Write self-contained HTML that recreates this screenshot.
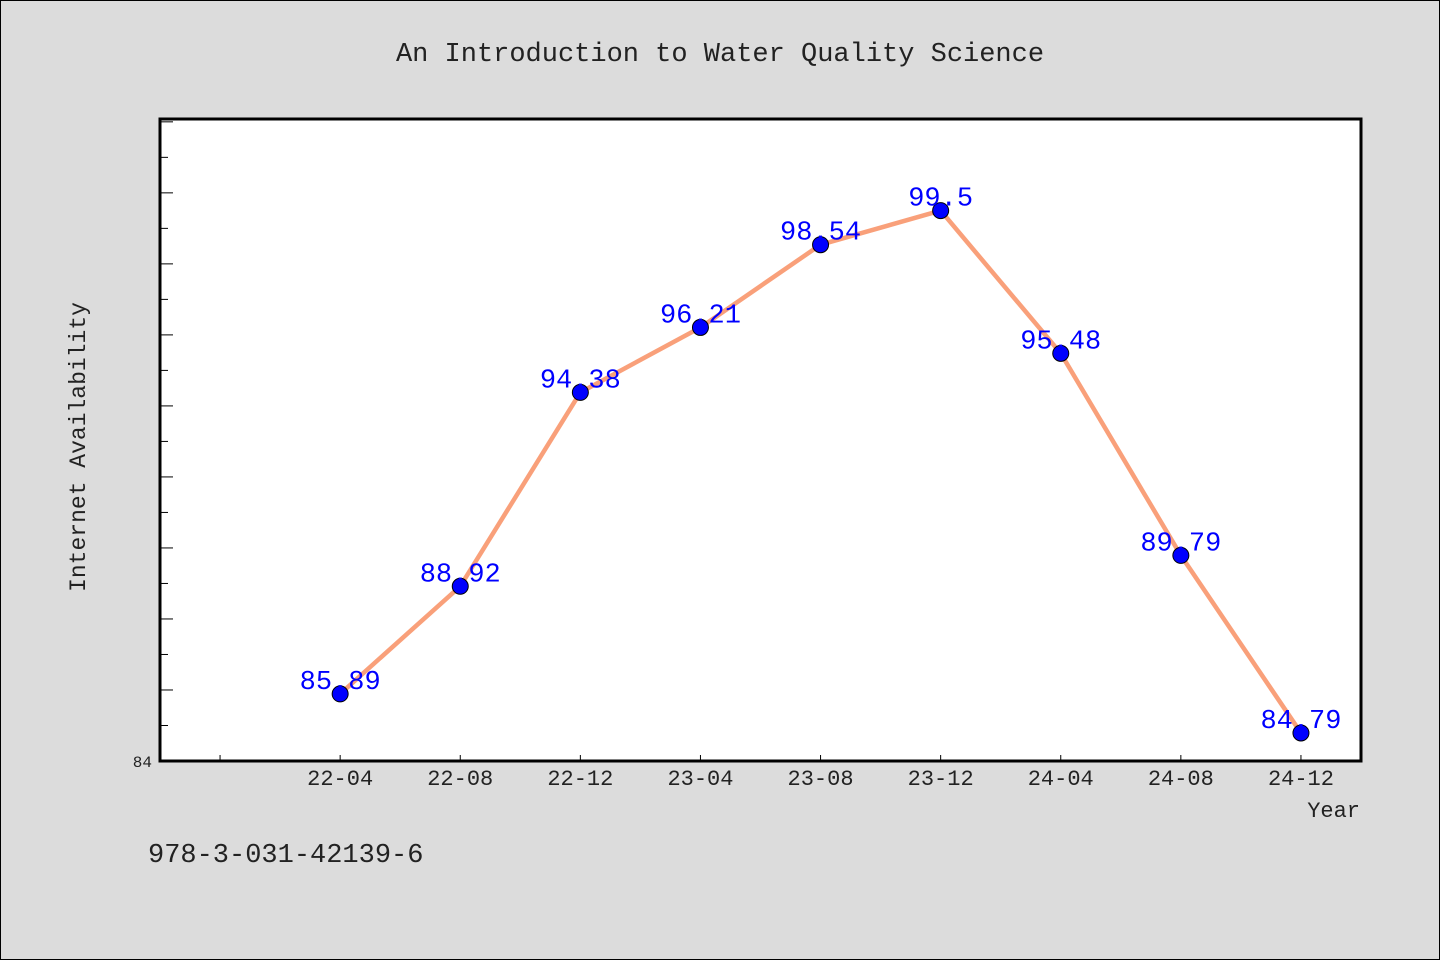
<!DOCTYPE html>
<html><head><meta charset="utf-8"><style>
body{margin:0;background:#dcdcdc;}
svg{display:block;font-family:"Liberation Mono","WenQuanYi Zen Hei",monospace;}
</style></head><body>
<svg id="chart" width="1440" height="960" xmlns="http://www.w3.org/2000/svg">
<rect x="0.5" y="0.5" width="1439" height="959" fill="#dcdcdc" stroke="#000"/>
<text x="720" y="61" text-anchor="middle" font-size="27" fill="#222">An Introduction to Water Quality Science</text>
<rect x="160" y="119" width="1201" height="642" fill="#fff" stroke="#000" stroke-width="3"/>
<text transform="translate(85,447) rotate(-90)" text-anchor="middle" font-size="23" fill="#222">Internet Availability</text>
<text x="1360" y="817" text-anchor="end" font-size="22" fill="#222">Year</text>
<text x="148" y="862" font-size="27" fill="#222">978-3-031-42139-6</text>
<g id="axes"></g>
<g id="marks"></g>
</svg>
<script>
const categories=["22-04","22-08","22-12","23-04","23-08","23-12","24-04","24-08","24-12"];
const values=[85.89,88.92,94.38,96.21,98.54,99.5,95.48,89.79,84.79];
const labels=["85.89","88.92","94.38","96.21","98.54","99.5","95.48","89.79","84.79"];
const yMin=84,yMax=102.08;
const NS="http://www.w3.org/2000/svg";
const L=160,R=1361,T=119,B=761;
const xs=i=>L+(i+1.5)/10*(R-L);
const ys=v=>B-(v-yMin)/(yMax-yMin)*(B-T);
function mk(tag,attrs,parent){const e=document.createElementNS(NS,tag);for(const k in attrs)e.setAttribute(k,attrs[k]);parent.appendChild(e);return e;}
const ax=document.getElementById('axes'),mg=document.getElementById('marks');
for(let v=yMin+1;v<yMax;v++){
  const y=ys(v);const len=(v%2===0)?13:8;
  const t=mk('line',{x1:L,x2:L+len,y1:y,y2:y,stroke:'#000','stroke-width':1},ax);
  
  
}
const yl=mk('text',{x:152,y:B+6,'text-anchor':'end','font-size':16,fill:'#222'},ax);
yl.textContent=String(yMin);


for(let i=-1;i<categories.length;i++){
  const x=xs(i);
  const t=mk('line',{x1:x,x2:x,y1:B,y2:B-6,stroke:'#000','stroke-width':1},ax);
  
  
  if(i>=0){
    const tl=mk('text',{x:x,y:B+24,'text-anchor':'middle','font-size':22,fill:'#222'},ax);
    tl.textContent=categories[i];
    
    
  }
}
const pts=values.map((v,i)=>xs(i)+','+ys(v)).join(' ');
const line=mk('polyline',{points:pts,fill:'none',stroke:'#f9a07a','stroke-width':4.5},mg);


values.forEach((v,i)=>{
  const c=mk('circle',{cx:xs(i),cy:ys(v),r:8,fill:'#0000ff',stroke:'#000','stroke-width':1},mg);
  
  
});
values.forEach((v,i)=>{
  const t=mk('text',{x:xs(i),y:ys(v)-5,'text-anchor':'middle','font-size':27,fill:'#0000ff'},mg);
  t.textContent=labels[i];
  
  
});
</script>
</body></html>
